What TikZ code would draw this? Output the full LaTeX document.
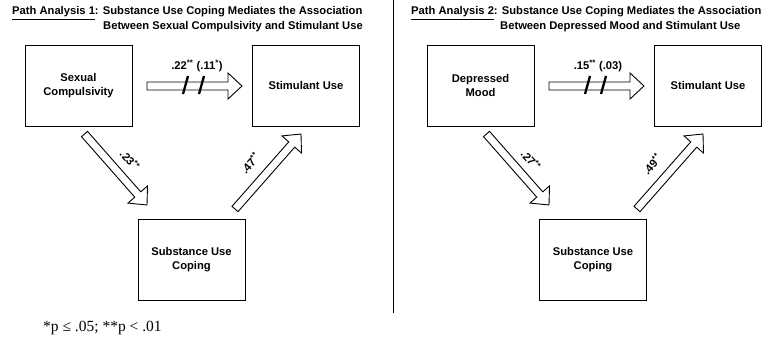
\documentclass[tikz,border=0pt]{standalone}
\usepackage{fontspec}
\setmainfont{Liberation Sans}
\newfontfamily\timesf{Liberation Serif}
\usetikzlibrary{calc}
\tikzset{
  box/.style={draw, line width=0.9pt, minimum width=107pt, minimum height=81pt, inner sep=0pt, align=center, font=\fontsize{11.2}{14.5}\selectfont\bfseries},
  blk/.style={draw, line width=0.9pt, fill=white, line join=miter},
  slashmark/.style={line width=2.3pt},
  lbl/.style={font=\fontsize{11.2}{13}\selectfont\bfseries, inner sep=0pt},
  ttl/.style={font=\fontsize{11.2}{13}\selectfont\bfseries, inner sep=0pt, anchor=base west},
}
\newcommand\blockarrow[2]{%
  \coordinate (bah) at ($(#2)!14pt!(#1)$);
  \draw[blk] ($(#1)!4pt!90:(#2)$) -- ($(bah)!4pt!90:(#2)$) -- ($(bah)!13pt!90:(#2)$) -- (#2)
    -- ($(bah)!13pt!-90:(#2)$) -- ($(bah)!4pt!-90:(#2)$) -- ($(#1)!4pt!-90:(#2)$) -- cycle;}
\begin{document}
\begin{tikzpicture}[x=1pt, y=-1pt]
\useasboundingbox (0,0) rectangle (768,342);
% ---------- Panel 1 ----------
\node[ttl] (t1a) at (12,15) {\underline{Path Analysis 1}: Substance Use Coping Mediates the Association};
\node[ttl] (t1b) at (103,30) {Between Sexual Compulsivity and Stimulant Use};
\node[box] (sc) at (78.5,85.5) {Sexual\\Compulsivity};
\node[box] (su1) at (306,85.5) {Stimulant Use};
\node[box] (cop1) at (191.5,259.5) {Substance Use\\Coping};
\coordinate (h1s) at (147,86);
\coordinate (h1e) at (242,86);
\coordinate (d1s) at (84.5,134);
\coordinate (d1e) at (147,205);
\coordinate (u1s) at (235,209);
\coordinate (u1e) at (301,134);
\blockarrow{h1s}{h1e}
\blockarrow{d1s}{d1e}
\blockarrow{u1s}{u1e}
\coordinate (s1a) at (183,94); \coordinate (s1b) at (188,76);
\coordinate (s1c) at (199,94); \coordinate (s1d) at (204,76);
\draw[slashmark] (s1a) -- (s1b);
\draw[slashmark] (s1c) -- (s1d);
\node[lbl] (l1h) at (197,66) {.22\textsuperscript{**} (.11\textsuperscript{*})};
\node[lbl, rotate=-48.6] (l1d) at (130,160) {.23\textsuperscript{**}};
\node[lbl, rotate=48.6] (l1u) at (250,163) {.47\textsuperscript{**}};
\node[anchor=base west, inner sep=0pt, font=\timesf\fontsize{15.5}{17}\selectfont] (fn) at (43,331) {*p ≤ .05; **p < .01};
% ---------- divider ----------
\coordinate (dv1) at (393,0);
\coordinate (dv2) at (393,313);
\draw[line width=1pt] (dv1) -- (dv2);
% ---------- Panel 2 ----------
\node[ttl] (t2a) at (411,15) {\underline{Path Analysis 2}: Substance Use Coping Mediates the Association};
\node[ttl] (t2b) at (500,30) {Between Depressed Mood and Stimulant Use};
\node[box] (dm) at (480.5,85.5) {Depressed\\Mood};
\node[box] (su2) at (708,85.5) {Stimulant Use};
\node[box] (cop2) at (593,259.5) {Substance Use\\Coping};
\coordinate (h2s) at (549,86);
\coordinate (h2e) at (644,86);
\coordinate (d2s) at (486.5,134);
\coordinate (d2e) at (549,205);
\coordinate (u2s) at (637,209);
\coordinate (u2e) at (703,134);
\blockarrow{h2s}{h2e}
\blockarrow{d2s}{d2e}
\blockarrow{u2s}{u2e}
\coordinate (s2a) at (585,94); \coordinate (s2b) at (590,76);
\coordinate (s2c) at (601,94); \coordinate (s2d) at (606,76);
\draw[slashmark] (s2a) -- (s2b);
\draw[slashmark] (s2c) -- (s2d);
\node[lbl] (l2h) at (598,66) {.15\textsuperscript{**} (.03)};
\node[lbl, rotate=-48.6] (l2d) at (531,160) {.27\textsuperscript{**}};
\node[lbl, rotate=48.6] (l2u) at (652,164) {.49\textsuperscript{**}};
\end{tikzpicture}
\end{document}
